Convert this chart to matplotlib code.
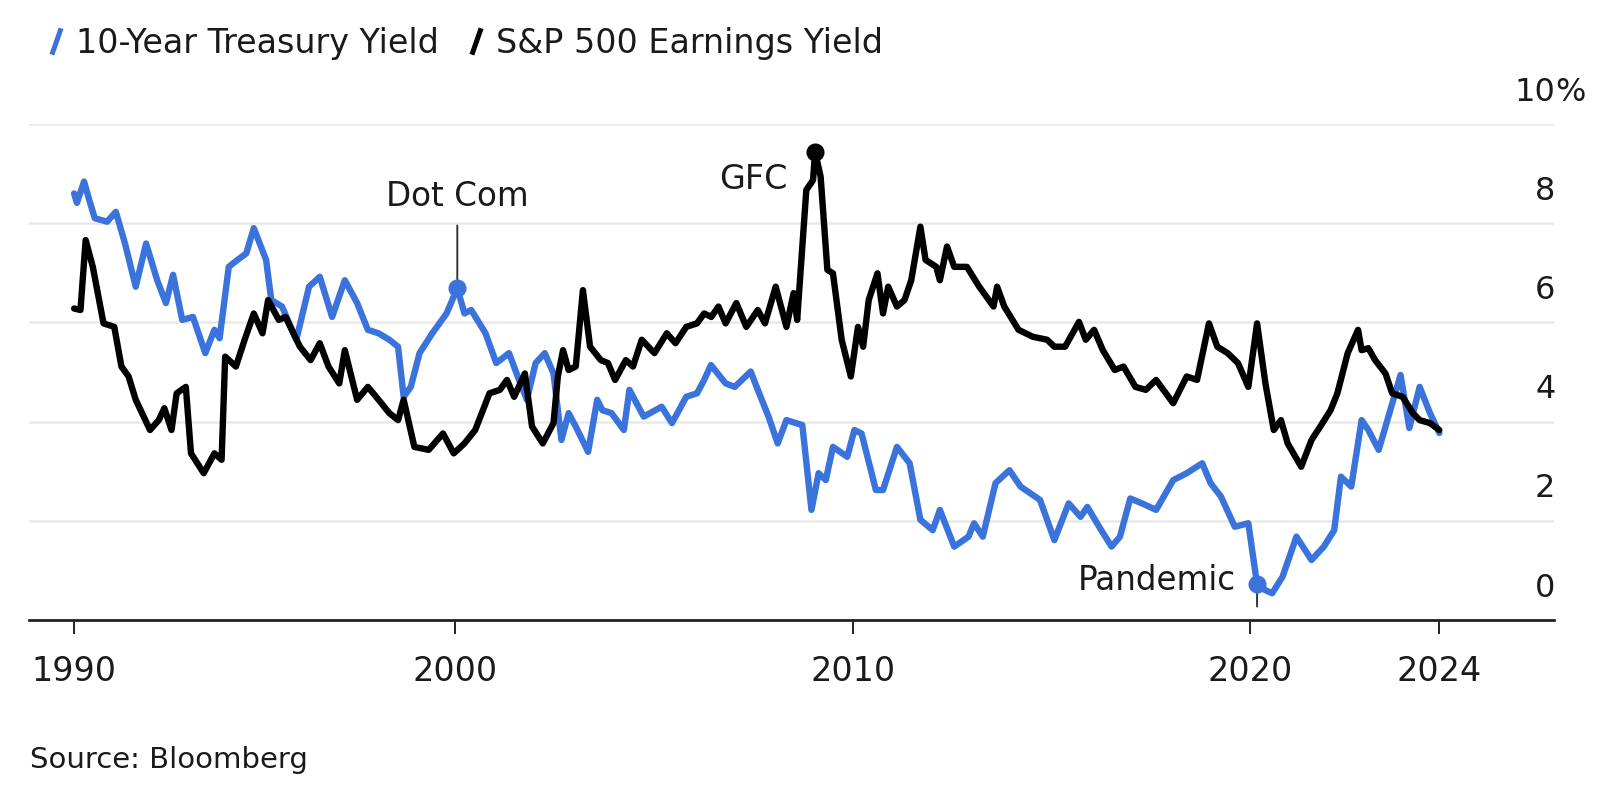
"""10-Year Treasury yield vs S&P 500 earnings yield (Bloomberg style line chart)."""

import matplotlib
matplotlib.use("Agg")
import matplotlib.pyplot as plt  # noqa: E402
from matplotlib.lines import Line2D  # noqa: E402

# ---- data (decimal years, percent) ----
tsy_years = [
    1990.41, 1990.48, 1990.66, 1990.79, 1990.93, 1991.24, 1991.46, 1991.69, 1991.96,
    1992.22, 1992.50, 1992.72, 1992.90, 1993.13, 1993.40, 1993.71, 1993.94, 1994.07,
    1994.30, 1994.52, 1994.74, 1994.93, 1995.24, 1995.37, 1995.64, 1996.00, 1996.32,
    1996.59, 1996.90, 1997.22, 1997.53, 1997.80, 1998.07, 1998.34, 1998.56, 1998.70,
    1998.88, 1999.10, 1999.42, 1999.78, 2000.05, 2000.23, 2000.40, 2000.76, 2001.03,
    2001.35, 2001.57, 2001.80, 2002.02, 2002.25, 2002.47, 2002.67, 2002.85, 2003.03,
    2003.34, 2003.57, 2003.70, 2003.93, 2004.24, 2004.38, 2004.74, 2005.19, 2005.45,
    2005.81, 2006.08, 2006.26, 2006.43, 2006.80, 2007.03, 2007.43, 2007.61, 2007.88,
    2008.11, 2008.33, 2008.73, 2008.96, 2009.14, 2009.32, 2009.50, 2009.86, 2010.04,
    2010.22, 2010.58, 2010.76, 2011.11, 2011.43, 2011.70, 2012.01, 2012.19, 2012.55,
    2012.91, 2013.05, 2013.27, 2013.59, 2013.94, 2014.22, 2014.71, 2015.07, 2015.43,
    2015.73, 2015.90, 2016.25, 2016.51, 2016.72, 2016.98, 2017.28, 2017.63, 2018.06,
    2018.40, 2018.79, 2019.00, 2019.26, 2019.61, 2019.95, 2020.17, 2020.38, 2020.55,
    2020.81, 2021.16, 2021.54, 2021.85, 2022.11, 2022.28, 2022.54, 2022.80, 2022.97,
    2023.23, 2023.78, 2024.00, 2024.26, 2024.52, 2024.755,
]
tsy_yield = [
    8.60, 8.41, 8.84, 8.47, 8.10, 8.03, 8.23, 7.59, 6.72,
    7.59, 6.85, 6.39, 6.96, 6.05, 6.11, 5.38, 5.85, 5.68,
    7.12, 7.26, 7.39, 7.90, 7.26, 6.45, 6.32, 5.65, 6.72,
    6.92, 6.11, 6.85, 6.39, 5.85, 5.78, 5.65, 5.51, 4.50,
    4.70, 5.38, 5.78, 6.18, 6.69, 6.18, 6.25, 5.78, 5.18,
    5.38, 4.91, 4.44, 5.18, 5.38, 4.97, 3.63, 4.17, 3.90,
    3.39, 4.44, 4.23, 4.17, 3.83, 4.64, 4.10, 4.30, 3.97,
    4.50, 4.57, 4.84, 5.14, 4.77, 4.70, 5.01, 4.64, 4.10,
    3.56, 4.03, 3.93, 2.22, 2.96, 2.82, 3.49, 3.29, 3.83,
    3.76, 2.62, 2.62, 3.49, 3.16, 2.02, 1.81, 2.22, 1.48,
    1.68, 1.95, 1.68, 2.76, 3.02, 2.69, 2.42, 1.61, 2.35,
    2.08, 2.28, 1.81, 1.48, 1.68, 2.45, 2.35, 2.22, 2.82,
    2.96, 3.16, 2.76, 2.49, 1.88, 1.95, 0.72, 0.60, 0.54,
    0.87, 1.68, 1.21, 1.48, 1.81, 2.89, 2.69, 4.03, 3.83,
    3.43, 4.94, 3.87, 4.70, 4.17, 3.77,
]

spx_years = [
    1990.41, 1990.57, 1990.70, 1990.88, 1991.15, 1991.42, 1991.60, 1991.78, 1991.96,
    1992.32, 1992.54, 1992.68, 1992.86, 1992.99, 1993.22, 1993.35, 1993.67, 1993.94,
    1994.12, 1994.21, 1994.48, 1994.70, 1994.93, 1995.15, 1995.29, 1995.56, 1995.73,
    1996.09, 1996.36, 1996.59, 1996.81, 1997.08, 1997.22, 1997.53, 1997.80, 1998.07,
    1998.34, 1998.56, 1998.70, 1998.97, 1999.33, 1999.69, 1999.96, 2000.23, 2000.50,
    2000.86, 2001.12, 2001.30, 2001.48, 2001.75, 2001.93, 2002.20, 2002.47, 2002.58,
    2002.71, 2002.85, 2003.03, 2003.21, 2003.39, 2003.66, 2003.84, 2004.02, 2004.29,
    2004.47, 2004.69, 2005.01, 2005.32, 2005.54, 2005.81, 2006.08, 2006.26, 2006.44,
    2006.62, 2006.80, 2007.07, 2007.32, 2007.61, 2007.79, 2008.06, 2008.33, 2008.51,
    2008.60, 2008.83, 2009.00, 2009.05, 2009.19, 2009.36, 2009.50, 2009.72, 2009.95,
    2010.13, 2010.26, 2010.40, 2010.62, 2010.76, 2010.89, 2011.11, 2011.30, 2011.47,
    2011.70, 2011.83, 2012.10, 2012.19, 2012.37, 2012.55, 2012.87, 2013.18, 2013.54,
    2013.63, 2013.81, 2014.17, 2014.53, 2014.89, 2015.07, 2015.34, 2015.69, 2015.86,
    2016.07, 2016.29, 2016.59, 2016.81, 2017.11, 2017.37, 2017.63, 2018.06, 2018.40,
    2018.66, 2018.96, 2019.17, 2019.43, 2019.69, 2019.95, 2020.17, 2020.38, 2020.59,
    2020.77, 2020.94, 2021.28, 2021.54, 2021.76, 2022.02, 2022.19, 2022.45, 2022.71,
    2022.80, 2022.97, 2023.14, 2023.40, 2023.57, 2023.83, 2024.09, 2024.26, 2024.52,
    2024.755,
]
spx_yield = [
    6.28, 6.25, 7.66, 7.12, 5.98, 5.91, 5.11, 4.91, 4.44,
    3.83, 4.03, 4.27, 3.83, 4.57, 4.70, 3.36, 2.96, 3.36,
    3.23, 5.31, 5.11, 5.65, 6.18, 5.78, 6.45, 6.05, 6.11,
    5.51, 5.24, 5.58, 5.11, 4.77, 5.44, 4.44, 4.70, 4.44,
    4.17, 4.03, 4.44, 3.49, 3.43, 3.76, 3.36, 3.56, 3.83,
    4.57, 4.64, 4.84, 4.50, 4.97, 3.90, 3.56, 3.97, 4.91,
    5.44, 5.04, 5.11, 6.65, 5.51, 5.24, 5.18, 4.84, 5.24,
    5.11, 5.65, 5.38, 5.78, 5.58, 5.91, 5.98, 6.18, 6.11,
    6.32, 5.98, 6.39, 5.91, 6.25, 5.98, 6.72, 5.91, 6.59,
    6.05, 8.67, 8.87, 9.44, 8.94, 7.06, 6.99, 5.65, 4.91,
    5.91, 5.51, 6.45, 6.99, 6.18, 6.72, 6.32, 6.45, 6.85,
    7.93, 7.26, 7.12, 6.85, 7.53, 7.12, 7.12, 6.72, 6.32,
    6.72, 6.32, 5.85, 5.71, 5.65, 5.51, 5.51, 6.01, 5.65,
    5.85, 5.44, 5.04, 5.11, 4.70, 4.64, 4.84, 4.37, 4.91,
    4.84, 5.98, 5.51, 5.38, 5.18, 4.70, 5.98, 4.77, 3.83,
    4.03, 3.56, 3.09, 3.63, 3.90, 4.23, 4.57, 5.38, 5.85,
    5.44, 5.48, 5.24, 4.97, 4.57, 4.50, 4.17, 4.03, 3.97,
    3.83,
]

series_labels = ["10-Year Treasury Yield", "S&P 500 Earnings Yield"]

# first / last ticks mark the first and last observation
x_ticks = [1990.41, 2000, 2010, 2020, 2024.755]
x_tick_labels = ["1990", "2000", "2010", "2020", "2024"]
y_ticks = [0, 2, 4, 6, 8, 10]
y_tick_labels = ["0", "2", "4", "6", "8", "10"]

event_labels = ["Dot Com", "GFC", "Pandemic"]
event_years = [2000.05, 2009.05, 2020.17]
event_values = [6.69, 9.44, 0.72]

BLUE = "#3a73dc"
BLACK = "#000000"
TEXT = "#1a1a1a"
GRID = "#e9e9e9"

W, H, DPI = 1597, 811, 100

plt.rcParams["font.family"] = "DejaVu Sans"

fig = plt.figure(figsize=(W / DPI, H / DPI), dpi=DPI)
fig.patch.set_facecolor("white")
ax = fig.add_axes([29 / W, (H - 620) / H, 1525 / W, 496 / H])

ax.set_xlim(1989.275, 2027.64)
ax.set_ylim(0, 10)

for side in ("top", "right", "left"):
    ax.spines[side].set_visible(False)
ax.spines["bottom"].set_color("#222222")
ax.spines["bottom"].set_linewidth(2)
ax.spines["bottom"].set_zorder(6)

ax.set_yticks(y_ticks)
ax.yaxis.grid(True, color=GRID, linewidth=1.8)
ax.set_axisbelow(True)
ax.tick_params(axis="y", length=0, labelleft=False)

ax.set_xticks(x_ticks)
ax.set_xticklabels(x_tick_labels)
ax.tick_params(axis="x", direction="out", length=10, width=1.4,
               color="#222222", labelsize=24, labelcolor=TEXT, pad=15)

# y labels sit above their gridlines, right aligned
label_x = 1.001
for val, lab in zip(y_ticks, y_tick_labels):
    ax.annotate(lab, xy=(label_x, val), xycoords=ax.get_yaxis_transform(),
                xytext=(0, 23), textcoords="offset points",
                ha="right", va="center", fontsize=23, color=TEXT)
ax.annotate("%", xy=(label_x, y_ticks[-1]), xycoords=ax.get_yaxis_transform(),
            xytext=(0, 23), textcoords="offset points",
            ha="left", va="center", fontsize=23, color=TEXT)

ax.plot(tsy_years, tsy_yield, color=BLUE, linewidth=4.6,
        solid_joinstyle="round", solid_capstyle="round", zorder=3, clip_on=False)
ax.plot(spx_years, spx_yield, color=BLACK, linewidth=4.6,
        solid_joinstyle="round", solid_capstyle="round", zorder=4, clip_on=False)

# event markers
dot_colors = [BLUE, BLACK, BLUE]
for x, v, c in zip(event_years, event_values, dot_colors):
    ax.plot(x, v, "o", color=c, markersize=12, zorder=5, clip_on=False)

stem = dict(arrowstyle="-", color="#333333", lw=1.4)
ax.annotate(event_labels[0], xy=(event_years[0], event_values[0]),
            xytext=(0, 66), textcoords="offset points", ha="center", va="center",
            fontsize=23.5, color=TEXT,
            arrowprops=dict(stem, shrinkA=7, shrinkB=0))
ax.annotate(event_labels[1], xy=(event_years[1], event_values[1]),
            xytext=(-19.5, -20), textcoords="offset points", ha="right", va="center",
            fontsize=24, color=TEXT)
ax.annotate(event_labels[2], xy=(event_years[2], event_values[2]),
            xytext=(-15.6, 2.5), textcoords="offset points", ha="right", va="center",
            fontsize=23.5, color=TEXT)
ax.annotate("", xy=(event_years[2], event_values[2]),
            xytext=(0, -16), textcoords="offset points",
            arrowprops=dict(stem, shrinkA=0, shrinkB=0))

# legend with slash swatches
slash = [(-0.35, -1), (0.35, 1)]
handles = [
    Line2D([], [], color=c, linestyle="none", marker=slash, markersize=19,
           markeredgewidth=3.6, markeredgecolor=c)
    for c in (BLUE, BLACK)
]
fig.legend(handles, series_labels, loc="center left",
           bbox_to_anchor=(46 / W, 1 - 43 / H), ncol=2, frameon=False,
           fontsize=24, handlelength=0.6, handletextpad=0.3, columnspacing=0.8,
           borderaxespad=0, borderpad=0, labelcolor=TEXT)

fig.text(30 / W, 1 - 760 / H, "Source: Bloomberg", fontsize=21,
         va="center", ha="left", color=TEXT)

fig.savefig("out.png", dpi=DPI, facecolor="white")
plt.close(fig)
